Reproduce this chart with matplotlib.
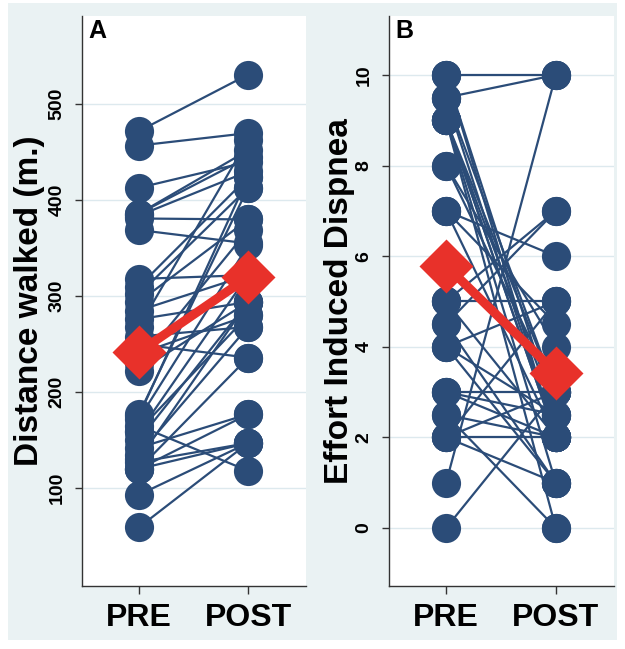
import matplotlib.pyplot as plt
from matplotlib.patches import Rectangle
import numpy as np

# paired observations, one entry per patient
dist_pre = [472, 457, 413, 386, 386, 384, 381, 369, 318, 310, 302, 294,
            285, 276, 268, 258, 250, 240, 230, 222, 177, 172, 165, 158,
            150, 142, 135, 127, 120, 120, 93, 59, 160, 175, 120, 130]
dist_post = [531, 470, 440, 452, 445, 430, 380, 355, 322, 424, 413, 380,
             322, 294, 463, 268, 236, 280, 369, 294, 413, 353, 118, 322,
             294, 177, 268, 147, 236, 177, 147, 147, 280, 424, 147, 294]

disp_pre = [10, 10, 10, 9.5, 9.5, 9.5, 9, 9, 9, 9, 9, 9, 8, 8, 7, 7, 7,
            5, 5, 5, 4.5, 4.5, 4, 4, 4, 3, 3, 3, 2.5, 2.5, 2, 2, 2, 2, 1, 0]
disp_post = [10, 2, 2.5, 10, 2, 3, 2, 2.5, 3, 1, 0, 2, 4, 3, 6, 4.5, 2,
             7, 5, 2, 7, 1, 5, 2.5, 1, 3, 2.5, 2, 0, 2, 2, 1, 5, 3, 10, 3]

groups = ['PRE', 'POST']

navy = '#2b4c78'
red = '#e8312a'
bg = '#eaf2f3'
grid = '#dde9ee'

plt.rcParams['font.family'] = ['Liberation Sans', 'DejaVu Sans']
plt.rcParams['font.weight'] = 'bold'

fig = plt.figure(figsize=(6.25, 6.49), dpi=100)
fig.patches.append(Rectangle((0.0128, 0.0139), 0.9744, 0.9815, transform=fig.transFigure,
                             facecolor=bg, edgecolor='none', zorder=-10))


def paired_plot(ax, pre, post, ylim, yticks, ylabel, letter, label_x):
    pos = [1, 2]
    for a, b in zip(pre, post):
        ax.plot(pos, [a, b], color=navy, lw=1.6, zorder=2, solid_capstyle='round')
    ax.plot([1] * len(pre), pre, 'o', ms=21, color=navy, mec='none', zorder=3)
    ax.plot([2] * len(post), post, 'o', ms=21, color=navy, mec='none', zorder=3)

    # group means
    means = [np.mean(pre), np.mean(post)]
    ax.plot(pos, means, color=red, lw=6.5, zorder=4)
    ax.plot(pos, means, 'D', ms=27, color=red, mec='none', zorder=5)

    ax.set_xlim(0.48, 2.53)
    ax.set_ylim(*ylim)
    ax.set_xticks(pos)
    ax.set_xticklabels(groups, fontsize=23, fontweight='bold')
    ax.set_yticks(yticks)
    ax.set_yticklabels([str(t) for t in yticks], fontsize=14, fontweight='bold',
                       rotation=90, va='center')
    ax.grid(axis='y', color=grid, lw=1)
    ax.set_axisbelow(True)
    for s in ['top', 'right']:
        ax.spines[s].set_visible(False)
    for s in ['left', 'bottom']:
        ax.spines[s].set_color('#333333')
        ax.spines[s].set_linewidth(1)
    ax.tick_params(axis='y', length=5, width=1, pad=7, colors='#333333', labelcolor='black')
    ax.tick_params(axis='x', length=6, width=1, pad=6, colors='#333333', labelcolor='black')
    ax.set_ylabel(ylabel, fontsize=24, fontweight='bold')
    ax.yaxis.set_label_coords(label_x, 0.5)
    ax.text(0.027, 0.995, letter, transform=ax.transAxes, fontsize=18,
            fontweight='bold', va='top', ha='left')


ax1 = fig.add_axes([0.1312, 0.0971, 0.3584, 0.8782])
paired_plot(ax1, dist_pre, dist_post, (-2, 592), [100, 200, 300, 400, 500],
            'Distance walked (m.)', 'A', -0.165)

ax2 = fig.add_axes([0.6224, 0.0971, 0.36, 0.8782])
paired_plot(ax2, disp_pre, disp_post, (-1.28, 11.3), [0, 2, 4, 6, 8, 10],
            'Effort Induced Dispnea', 'B', -0.15)

plt.savefig('out.png', dpi=100)
